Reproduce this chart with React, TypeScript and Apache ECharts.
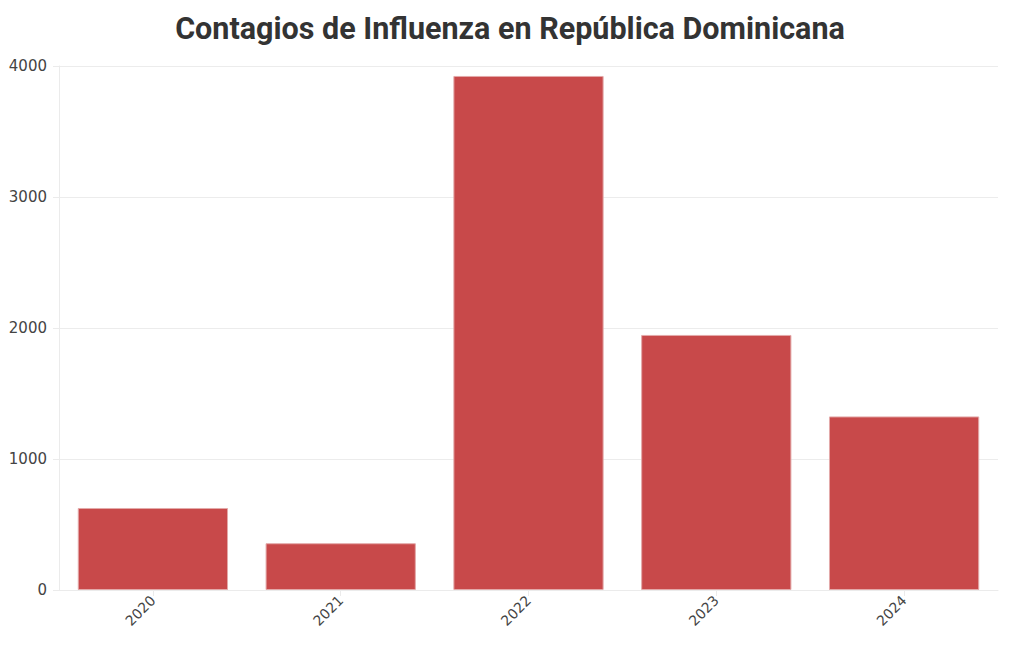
import React, { useEffect, useRef } from "react";
import * as echarts from "echarts";

const title = "Contagios de Influenza en República Dominicana";
const years = ["2020", "2021", "2022", "2023", "2024"];
const cases = [626, 357, 3924, 1947, 1325];
const yTicks = { min: 0, max: 4000, interval: 1000 };

export default function App() {
  const ref = useRef<HTMLDivElement>(null);
  useEffect(() => {
    if (!ref.current) return;
    const chart = echarts.init(ref.current, null, { renderer: "svg" });
    chart.setOption({
      animation: false,
      backgroundColor: "#ffffff",
      title: {
        text: title,
        left: "center",
        top: 8,
        textStyle: {
          fontFamily: "'Roboto', sans-serif",
          fontWeight: "bold",
          fontSize: 30.5,
          color: "#333333",
        },
      },
      grid: { left: 59, right: 22, top: 66, bottom: 60 },
      xAxis: {
        type: "category",
        data: years,
        axisLine: { show: true, lineStyle: { color: "#ebebeb" } },
        axisTick: { show: true, alignWithLabel: true, length: 6, lineStyle: { color: "#ebebeb" } },
        axisLabel: {
          rotate: 45,
          color: "#444444",
          fontSize: 14,
          fontFamily: "'DejaVu Sans', sans-serif",
          margin: 8,
        },
        splitLine: { show: false },
      },
      yAxis: {
        type: "value",
        min: yTicks.min,
        max: yTicks.max,
        interval: yTicks.interval,
        axisLine: { show: true, lineStyle: { color: "#ebebeb" } },
        axisTick: { show: true, length: 6, lineStyle: { color: "#ebebeb" } },
        axisLabel: {
          color: "#444444",
          fontSize: 15,
          fontFamily: "'DejaVu Sans', sans-serif",
          margin: 12,
          formatter: (v: number) => String(v),
        },
        splitLine: { show: true, lineStyle: { color: "#ececec" } },
      },
      series: [
        {
          type: "bar",
          data: cases,
          barWidth: "80%",
          itemStyle: {
            color: "#c8494a",
            borderColor: "#e3a9a9",
            borderWidth: 1,
          },
        },
      ],
    });
    return () => chart.dispose();
  }, []);
  return (
    <div
      ref={ref}
      style={{ position: "fixed", left: 0, top: 0, width: 1020, height: 650 }}
    />
  );
}
